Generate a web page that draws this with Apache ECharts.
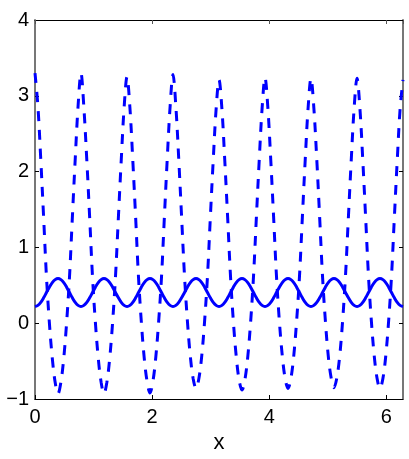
<!DOCTYPE html>
<html>
<head>
<meta charset="utf-8">
<script src="https://cdn.jsdelivr.net/npm/echarts@6/dist/echarts.min.js"></script>
<style>
html, body { margin: 0; padding: 0; background: #fff; }
#main { width: 409px; height: 459px; }
</style>
</head>
<body>
<div id="main"></div>
<script>
// sample positions along x (step pi/64)
var xs = [0, 0.049, 0.098, 0.147, 0.196, 0.245, 0.295, 0.344,
  0.393, 0.442, 0.491, 0.540, 0.589, 0.638, 0.687, 0.736,
  0.785, 0.834, 0.884, 0.933, 0.982, 1.031, 1.080, 1.129,
  1.178, 1.227, 1.276, 1.325, 1.374, 1.424, 1.473, 1.522,
  1.571, 1.620, 1.669, 1.718, 1.767, 1.816, 1.865, 1.914,
  1.963, 2.013, 2.062, 2.111, 2.160, 2.209, 2.258, 2.307,
  2.356, 2.405, 2.454, 2.503, 2.553, 2.602, 2.651, 2.700,
  2.749, 2.798, 2.847, 2.896, 2.945, 2.994, 3.043, 3.093,
  3.142, 3.191, 3.240, 3.289, 3.338, 3.387, 3.436, 3.485,
  3.534, 3.583, 3.633, 3.682, 3.731, 3.780, 3.829, 3.878,
  3.927, 3.976, 4.025, 4.074, 4.123, 4.172, 4.222, 4.271,
  4.320, 4.369, 4.418, 4.467, 4.516, 4.565, 4.614, 4.663,
  4.712, 4.761, 4.811, 4.860, 4.909, 4.958, 5.007, 5.056,
  5.105, 5.154, 5.203, 5.252, 5.301, 5.351, 5.400, 5.449,
  5.498, 5.547, 5.596, 5.645, 5.694, 5.743, 5.792, 5.841,
  5.890, 5.940, 5.989, 6.038, 6.087, 6.136, 6.185, 6.234, 6.283];

// dashed curve
var dashedY = [
  3.30, 2.87, 2.17, 1.40, 0.61, 0.01, -0.46, -0.78, -0.93, -0.78, -0.46, 0.01, 0.61, 1.40, 2.17, 2.87,
  3.30, 2.85, 2.16, 1.40, 0.61, 0.01, -0.46, -0.78, -0.93, -0.78, -0.46, 0.01, 0.61, 1.40, 2.16, 2.85,
  3.25, 2.85, 2.16, 1.40, 0.61, 0.01, -0.46, -0.77, -0.92, -0.77, -0.45, 0.02, 0.61, 1.40, 2.17, 2.86,
  3.28, 2.86, 2.17, 1.40, 0.62, 0.03, -0.43, -0.73, -0.86, -0.73, -0.43, 0.03, 0.62, 1.40, 2.15, 2.83,
  3.21, 2.83, 2.15, 1.40, 0.62, 0.02, -0.44, -0.75, -0.88, -0.75, -0.44, 0.02, 0.62, 1.40, 2.16, 2.84,
  3.24, 2.84, 2.16, 1.40, 0.62, 0.03, -0.43, -0.73, -0.86, -0.73, -0.43, 0.03, 0.62, 1.40, 2.16, 2.84,
  3.23, 2.84, 2.16, 1.40, 0.62, 0.03, -0.43, -0.72, -0.85, -0.72, -0.43, 0.03, 0.62, 1.40, 2.16, 2.84,
  3.23, 2.84, 2.16, 1.40, 0.62, 0.03, -0.43, -0.73, -0.86, -0.73, -0.43, 0.03, 0.62, 1.40, 2.15, 2.83,
  3.21];

// solid curve
var solidY = [
  0.22, 0.235, 0.275, 0.335, 0.405, 0.475, 0.535, 0.575, 0.59, 0.575, 0.535, 0.475, 0.405, 0.335, 0.275, 0.235,
  0.22, 0.235, 0.275, 0.335, 0.405, 0.475, 0.535, 0.575, 0.59, 0.575, 0.535, 0.475, 0.405, 0.335, 0.275, 0.235,
  0.22, 0.235, 0.275, 0.335, 0.405, 0.475, 0.535, 0.575, 0.59, 0.575, 0.535, 0.475, 0.405, 0.335, 0.275, 0.235,
  0.22, 0.235, 0.275, 0.335, 0.405, 0.475, 0.535, 0.575, 0.59, 0.575, 0.535, 0.475, 0.405, 0.335, 0.275, 0.235,
  0.22, 0.235, 0.275, 0.335, 0.405, 0.475, 0.535, 0.575, 0.59, 0.575, 0.535, 0.475, 0.405, 0.335, 0.275, 0.235,
  0.22, 0.235, 0.275, 0.335, 0.405, 0.475, 0.535, 0.575, 0.59, 0.575, 0.535, 0.475, 0.405, 0.335, 0.275, 0.235,
  0.22, 0.235, 0.275, 0.335, 0.405, 0.475, 0.535, 0.575, 0.59, 0.575, 0.535, 0.475, 0.405, 0.335, 0.275, 0.235,
  0.22, 0.235, 0.275, 0.335, 0.405, 0.475, 0.535, 0.575, 0.59, 0.575, 0.535, 0.475, 0.405, 0.335, 0.275, 0.235,
  0.22];

var xTicks = [0, 2, 4, 6];
var yTicks = [-1, 0, 1, 2, 3, 4];
var xName = 'x';

function pairs(ys) {
  var out = [];
  for (var i = 0; i < xs.length; i++) out.push([xs[i], ys[i]]);
  return out;
}

var font = 'Liberation Sans';
var xMax = 6.2832;

var chart = echarts.init(document.getElementById('main'));

var option = {
  animation: false,
  backgroundColor: '#fff',
  grid: { left: 35, right: 6, top: 20, bottom: 60 },
  xAxis: [{
    type: 'value', position: 'bottom',
    min: xTicks[0], max: xMax, interval: 2,
    name: xName, nameLocation: 'middle', nameGap: 30,
    nameTextStyle: { fontFamily: font, fontSize: 22, color: '#000' },
    axisLine: { onZero: false, lineStyle: { color: '#000', width: 1 } },
    axisTick: { inside: true, length: 4, lineStyle: { color: '#000' } },
    axisLabel: {
      margin: 8, fontFamily: font, fontSize: 20, color: '#000',
      showMaxLabel: false,
      formatter: function (v) { return xTicks.indexOf(v) >= 0 ? String(v) : ''; }
    },
    splitLine: { show: false }
  }, {
    type: 'value', position: 'top',
    min: xTicks[0], max: xMax, interval: 2,
    axisLine: { show: true, onZero: false, lineStyle: { color: '#000', width: 1 } },
    axisTick: { inside: true, length: 4, lineStyle: { color: '#555' } },
    axisLabel: { show: false },
    splitLine: { show: false }
  }],
  yAxis: [{
    type: 'value', position: 'left',
    min: yTicks[0], max: yTicks[yTicks.length - 1], interval: 1,
    axisLine: { show: true, onZero: false, lineStyle: { color: '#777', width: 2 } },
    axisTick: { inside: true, length: 4, lineStyle: { color: '#000' } },
    axisLabel: {
      margin: 6, fontFamily: font, fontSize: 20, color: '#000',
      formatter: function (v) { return String(v).replace('-', '\u2212'); }
    },
    splitLine: { show: false }
  }, {
    type: 'value', position: 'right',
    min: yTicks[0], max: yTicks[yTicks.length - 1], interval: 1,
    axisLine: { show: true, onZero: false, lineStyle: { color: '#777', width: 2 } },
    axisTick: { inside: true, length: 4, lineStyle: { color: '#000' } },
    axisLabel: { show: false },
    splitLine: { show: false }
  }],
  series: [{
    type: 'line',
    data: pairs(dashedY),
    showSymbol: false,
    smooth: 0.35,
    lineStyle: { color: '#0000ff', width: 3, type: [10, 9] },
    emphasis: { disabled: true }
  }, {
    type: 'line',
    data: pairs(solidY),
    showSymbol: false,
    smooth: 0.35,
    lineStyle: { color: '#0000ff', width: 3 },
    emphasis: { disabled: true }
  }]
};

chart.setOption(option);
</script>
</body>
</html>
